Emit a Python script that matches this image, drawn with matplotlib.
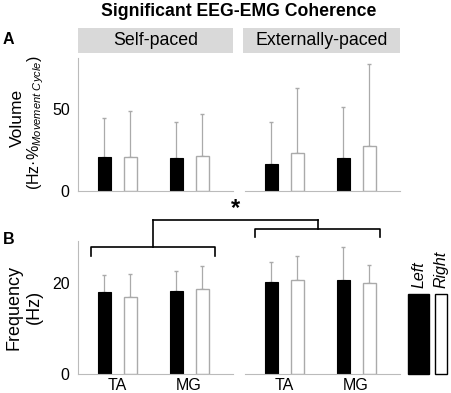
import numpy as np
from matplotlib import pyplot as plt
from matplotlib.lines import Line2D
from matplotlib.patches import Rectangle

plt.rcParams['font.family'] = ['Liberation Sans', 'DejaVu Sans']
plt.rcParams['mathtext.fontset'] = 'custom'
plt.rcParams['mathtext.rm'] = 'Liberation Sans'
plt.rcParams['mathtext.it'] = 'Liberation Sans:italic'

W, H = 451, 393

muscles = ['TA', 'MG']
conditions = ['Self-paced', 'Externally-paced']

# panel A: volume (Hz.% movement cycle), mean and mean+sd, per condition [TA, MG]
vol_left = {'Self-paced': [21.0, 20.4], 'Externally-paced': [16.3, 20.0]}
vol_left_top = {'Self-paced': [44.7, 42.2], 'Externally-paced': [42.0, 51.2]}
vol_right = {'Self-paced': [20.8, 21.6], 'Externally-paced': [23.1, 27.6]}
vol_right_top = {'Self-paced': [49.2, 47.1], 'Externally-paced': [62.9, 77.8]}

# panel B: frequency (Hz)
freq_left = {'Self-paced': [18.0, 18.3], 'Externally-paced': [20.2, 20.7]}
freq_left_top = {'Self-paced': [21.8, 22.6], 'Externally-paced': [24.6, 28.0]}
freq_right = {'Self-paced': [17.0, 18.75], 'Externally-paced': [20.6, 20.1]}
freq_right_top = {'Self-paced': [22.1, 23.9], 'Externally-paced': [26.1, 24.1]}


def px_rect(x0, y0, x1, y1):
    """pixel box (y from top) -> figure fraction rect"""
    return [x0 / W, 1 - y1 / H, (x1 - x0) / W, (y1 - y0) / H]


def fx(x):
    return x / W


def fy(y):
    return 1 - y / H


def draw_panel(ax, left, left_top, right, right_top, ylim, show_left_spine):
    x = np.arange(1, len(muscles) + 1)
    off = 13 / 72
    w = 13 / 72
    grey = '#aaaaaa'
    left, right = np.array(left), np.array(right)
    ax.bar(x - off, left, w, color='black', edgecolor='black', lw=0.8, zorder=2)
    ax.bar(x + off, right, w, color='white', edgecolor=grey, lw=1.0, zorder=2)
    ax.errorbar(x - off, left, yerr=[np.zeros(2), np.array(left_top) - left],
                fmt='none', ecolor=grey, elinewidth=0.9, capsize=1.2, zorder=1)
    ax.errorbar(x + off, right, yerr=[np.zeros(2), np.array(right_top) - right],
                fmt='none', ecolor=grey, elinewidth=0.9, capsize=1.2, zorder=1)
    ax.set_xlim(1 - 39 / 72, 1 - 39 / 72 + 155 / 72)
    ax.set_ylim(*ylim)
    for s in ['top', 'right']:
        ax.spines[s].set_visible(False)
    ax.spines['left'].set_visible(show_left_spine)
    ax.spines['left'].set_color('#bbbbbb')
    ax.spines['bottom'].set_color('#bbbbbb')
    ax.tick_params(length=0, labelsize=11.5, pad=6)
    if not show_left_spine:
        ax.set_yticks([])


fig = plt.figure(figsize=(W / 100, H / 100), dpi=100)

fig.text(fx(239), fy(12), 'Significant EEG-EMG Coherence', ha='center', va='center',
         fontsize=12.7, fontweight='bold')
fig.text(fx(3), fy(40), 'A', ha='left', va='center', fontsize=11.5, fontweight='bold')
fig.text(fx(3), fy(240), 'B', ha='left', va='center', fontsize=11.5, fontweight='bold')

cols = [(78, 233), (245, 400)]
strips = [(78, 233), (243, 400)]

for i, cond in enumerate(conditions):
    sx0, sx1 = strips[i]
    sax = fig.add_axes(px_rect(sx0, 28, sx1, 53))
    sax.set_facecolor('#d9d9d9')
    sax.set_xticks([])
    sax.set_yticks([])
    for s in sax.spines.values():
        s.set_visible(False)
    sax.text(0.5, 0.5, cond, ha='center', va='center', fontsize=12.8, transform=sax.transAxes)

    x0, x1 = cols[i]
    axA = fig.add_axes(px_rect(x0, 58, x1, 191))
    draw_panel(axA, vol_left[cond], vol_left_top[cond], vol_right[cond], vol_right_top[cond],
               (0, 81.4), i == 0)
    axA.set_xticks([])
    if i == 0:
        axA.set_yticks([0, 50])

    axB = fig.add_axes(px_rect(x0, 241, x1, 374))
    draw_panel(axB, freq_left[cond], freq_left_top[cond], freq_right[cond], freq_right_top[cond],
               (0, 29.3), i == 0)
    axB.set_xticks([1, 2])
    axB.set_xticklabels(muscles)
    axB.tick_params(axis='x', pad=3)
    if i == 0:
        axB.set_yticks([0, 20])

# y labels
fig.text(fx(17), fy(118), 'Volume', rotation=90, ha='center', va='center', fontsize=12.5)
fig.text(fx(36), fy(123), '(Hz\u00b7%$_{\\mathit{Movement\\ Cycle}}$)', rotation=90,
         ha='center', va='center', fontsize=11.5)
fig.text(fx(14), fy(307), 'Frequency', rotation=90, ha='center', va='center', fontsize=13)
fig.text(fx(34), fy(307), '(Hz)', rotation=90, ha='center', va='center', fontsize=13)

# significance brackets
segs = [
    [(91, 256), (91, 247), (215, 247), (215, 256)],
    [(153, 247), (153, 219.5)],
    [(255, 237), (255, 229), (380, 229), (380, 237)],
    [(318, 229), (318, 219.5)],
    [(153, 219.5), (318, 219.5)],
]
for seg in segs:
    xs = [fx(p[0]) for p in seg]
    ys = [fy(p[1]) for p in seg]
    fig.add_artist(Line2D(xs, ys, color='black', lw=1.2, transform=fig.transFigure))
fig.text(fx(235), fy(209), '*', ha='center', va='center', fontsize=17, fontweight='bold')

# legend
fig.add_artist(Rectangle((fx(408), fy(374)), (429 - 408) / W, (374 - 294) / H,
                         transform=fig.transFigure, facecolor='black', edgecolor='black'))
fig.add_artist(Rectangle((fx(435), fy(374)), (447 - 435) / W, (374 - 294) / H,
                         transform=fig.transFigure, facecolor='white', edgecolor='black', lw=1.0))
fig.text(fx(419), fy(288), 'Left', rotation=90, ha='center', va='bottom', fontsize=11.5, style='italic')
fig.text(fx(441), fy(288), 'Right', rotation=90, ha='center', va='bottom', fontsize=11.5, style='italic')

plt.savefig('out.png', dpi=100)
